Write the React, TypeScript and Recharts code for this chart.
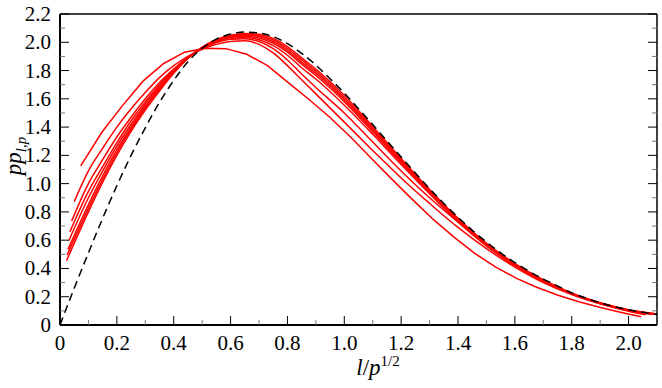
import { LineChart, Line, XAxis, YAxis } from 'recharts';

// x positions for the finer red curves (between their own start and end points)
const GRID_X = [0.1, 0.15, 0.2, 0.25, 0.3, 0.35, 0.4, 0.45, 0.5, 0.55, 0.6, 0.65, 0.7, 0.75, 0.8, 0.85, 0.9, 1.0, 1.1, 1.2, 1.3, 1.4, 1.5, 1.6, 1.7, 1.8, 1.9, 2.0];

const START_X = [0.05, 0.041, 0.035, 0.031, 0.028, 0.025, 0.023];
const START_Y = [0.872, 0.735, 0.66, 0.596, 0.535, 0.495, 0.455];
const END_X = [2.06, 2.08, 2.1, 2.1, 2.1, 2.1, 2.1];
const END_Y = [0.072, 0.074, 0.075, 0.075, 0.076, 0.077, 0.078];

const R2 = [1.09, 1.25, 1.4, 1.53, 1.645, 1.75, 1.835, 1.9, 1.95, 1.985, 2.005, 2.01, 1.985, 1.925, 1.835, 1.735, 1.635, 1.435, 1.235, 1.04, 0.86, 0.69, 0.54, 0.41, 0.3, 0.215, 0.15, 0.098];
const R3 = [1.0, 1.17, 1.33, 1.47, 1.6, 1.715, 1.81, 1.895, 1.96, 2.0, 2.022, 2.025, 2.005, 1.955, 1.875, 1.775, 1.68, 1.5, 1.295, 1.09, 0.9, 0.728, 0.56, 0.42, 0.31, 0.22, 0.153, 0.102];
const R4 = [0.945, 1.12, 1.29, 1.445, 1.58, 1.7, 1.805, 1.895, 1.955, 1.998, 2.024, 2.033, 2.018, 1.976, 1.908, 1.82, 1.74, 1.555, 1.35, 1.135, 0.928, 0.733, 0.562, 0.421, 0.308, 0.217, 0.151, 0.102];
const R5 = [0.9, 1.088, 1.265, 1.42, 1.563, 1.688, 1.797, 1.892, 1.958, 2.005, 2.033, 2.042, 2.03, 1.993, 1.93, 1.845, 1.765, 1.58, 1.367, 1.148, 0.938, 0.74, 0.568, 0.426, 0.312, 0.22, 0.153, 0.104];
const R6 = [0.852, 1.055, 1.24, 1.4, 1.548, 1.675, 1.79, 1.889, 1.96, 2.011, 2.04, 2.05, 2.04, 2.005, 1.943, 1.86, 1.78, 1.595, 1.38, 1.158, 0.945, 0.745, 0.572, 0.429, 0.315, 0.222, 0.155, 0.105];
const R7 = [0.825, 1.03, 1.22, 1.385, 1.535, 1.665, 1.785, 1.887, 1.963, 2.016, 2.045, 2.056, 2.048, 2.016, 1.956, 1.875, 1.795, 1.61, 1.392, 1.168, 0.952, 0.75, 0.575, 0.432, 0.318, 0.224, 0.156, 0.106];
const R8 = [0.8, 1.01, 1.2, 1.37, 1.52, 1.655, 1.78, 1.885, 1.965, 2.02, 2.05, 2.062, 2.056, 2.028, 1.97, 1.89, 1.81, 1.625, 1.405, 1.178, 0.958, 0.755, 0.578, 0.435, 0.32, 0.226, 0.158, 0.108];

// coarsest curve, sampled at its own spacing
const R1_X = [0.073, 0.146, 0.219, 0.292, 0.365, 0.438, 0.511, 0.584, 0.657, 0.73, 0.803, 0.876, 0.949, 1.022, 1.095, 1.168, 1.241, 1.314, 1.387, 1.46, 1.533, 1.606, 1.679, 1.752, 1.825, 1.898, 1.971, 2.044];
const R1_Y = [1.125, 1.36, 1.55, 1.725, 1.85, 1.93, 1.957, 1.955, 1.915, 1.835, 1.715, 1.595, 1.47, 1.33, 1.18, 1.03, 0.885, 0.745, 0.62, 0.505, 0.41, 0.33, 0.265, 0.21, 0.165, 0.125, 0.09, 0.058];

// limiting curve (dashed)
const LIMIT_X = [0, 0.05, 0.1, 0.15, 0.2, 0.25, 0.3, 0.35, 0.4, 0.45, 0.5, 0.55, 0.6, 0.65, 0.7, 0.75, 0.8, 0.85, 0.9, 0.95, 1.0, 1.05, 1.1, 1.15, 1.2, 1.25, 1.3, 1.35, 1.4, 1.45, 1.5, 1.55, 1.6, 1.65, 1.7, 1.75, 1.8, 1.85, 1.9, 1.95, 2.0, 2.05, 2.1];
const LIMIT_Y = [0, 0.26, 0.51, 0.755, 0.985, 1.2, 1.395, 1.575, 1.73, 1.862, 1.958, 2.022, 2.058, 2.072, 2.066, 2.04, 1.99, 1.922, 1.838, 1.742, 1.64, 1.53, 1.418, 1.302, 1.188, 1.075, 0.965, 0.86, 0.762, 0.67, 0.587, 0.51, 0.442, 0.38, 0.325, 0.277, 0.227, 0.19, 0.158, 0.13, 0.108, 0.09, 0.075];

const X_TICKS = [0, 0.1, 0.2, 0.3, 0.4, 0.5, 0.6, 0.7, 0.8, 0.9, 1.0, 1.1, 1.2, 1.3, 1.4, 1.5, 1.6, 1.7, 1.8, 1.9, 2.0];
const Y_TICKS = [0, 0.1, 0.2, 0.3, 0.4, 0.5, 0.6, 0.7, 0.8, 0.9, 1.0, 1.1, 1.2, 1.3, 1.4, 1.5, 1.6, 1.7, 1.8, 1.9, 2.0, 2.1, 2.2];

const serif = { fontFamily: 'Liberation Serif, DejaVu Serif, serif' };

const toPoints = (xs: number[], ys: number[]) => xs.map((x, i) => ({ x, y: ys[i] }));

const gridCurves = [R2, R3, R4, R5, R6, R7, R8].map((ys, i) => [
  { x: START_X[i], y: START_Y[i] },
  ...toPoints(GRID_X, ys),
  { x: END_X[i], y: END_Y[i] },
]);
const r1 = toPoints(R1_X, R1_Y);
const limit = toPoints(LIMIT_X, LIMIT_Y);

const isMajor = (v: number) => Math.round(v * 10) % 2 === 0;
const fmt = (v: number) => (v === 0 ? '0' : v.toFixed(1));
const MAJOR = 9;
const MINOR = 5;

const tickLine = (major: boolean) => ({ stroke: major ? '#000' : '#777', strokeWidth: 1 });

const BottomTick = ({ x, y, payload }: any) => {
  const major = isMajor(payload.value);
  return (
    <g>
      <line x1={x} x2={x} y1={y} y2={y - (major ? MAJOR : MINOR)} {...tickLine(major)} />
      {major && (
        <text x={x} y={y + 25} textAnchor="middle" style={serif} fontSize={21} fill="#000">
          {fmt(payload.value)}
        </text>
      )}
    </g>
  );
};

const TopTick = ({ x, y, payload }: any) => {
  const major = isMajor(payload.value);
  return <line x1={x} x2={x} y1={y} y2={y + (major ? MAJOR : MINOR)} {...tickLine(major)} />;
};

const LeftTick = ({ x, y, payload }: any) => {
  const major = isMajor(payload.value);
  return (
    <g>
      <line x1={x} x2={x + (major ? MAJOR : MINOR)} y1={y} y2={y} {...tickLine(major)} />
      {major && (
        <text x={x - 9} y={y + 7} textAnchor="end" style={serif} fontSize={21} fill="#000">
          {fmt(payload.value)}
        </text>
      )}
    </g>
  );
};

const RightTick = ({ x, y, payload }: any) => {
  const major = isMajor(payload.value);
  return <line x1={x} x2={x - (major ? MAJOR : MINOR)} y1={y} y2={y} {...tickLine(major)} />;
};

const XTitle = () => (
  <text x={378} y={375} textAnchor="middle" style={serif} fontSize={23} fill="#000">
    <tspan fontStyle="italic">l</tspan>/<tspan fontStyle="italic">p</tspan>
    <tspan fontSize={15} dy={-9}>1/2</tspan>
  </text>
);

const YTitle = () => (
  <text transform="rotate(-90)" x={-156} y={21} textAnchor="middle" style={serif} fontSize={23} fill="#000">
    <tspan fontStyle="italic">pp</tspan>
    <tspan fontStyle="italic" fontSize={15} dy={5}>l,p</tspan>
  </text>
);

export default function App() {
  return (
    <div style={{ position: 'absolute', left: 0, top: 0, background: '#fff' }}>
      <LineChart width={662} height={388} margin={{ top: 13, right: 4, bottom: 62, left: 59 }}>
        <XAxis
          xAxisId="x"
          dataKey="x"
          type="number"
          domain={[0, 2.1]}
          allowDataOverflow
          ticks={X_TICKS}
          interval={0}
          height={1}
          tickSize={0}
          tickMargin={0}
          tickLine={false}
          tick={BottomTick}
          axisLine={{ stroke: '#000', strokeWidth: 2 }}
          label={{ content: () => <XTitle /> }}
        />
        <XAxis
          xAxisId="top"
          orientation="top"
          type="number"
          domain={[0, 2.1]}
          allowDataOverflow
          ticks={X_TICKS}
          interval={0}
          height={1}
          tickSize={0}
          tickMargin={0}
          tickLine={false}
          tick={TopTick}
          axisLine={{ stroke: '#000', strokeWidth: 1.5 }}
        />
        <YAxis
          yAxisId="y"
          type="number"
          domain={[0, 2.2]}
          allowDataOverflow
          ticks={Y_TICKS}
          interval={0}
          width={1}
          tickSize={0}
          tickMargin={0}
          tickLine={false}
          tick={LeftTick}
          axisLine={{ stroke: '#000', strokeWidth: 2 }}
          label={{ content: () => <YTitle /> }}
        />
        <YAxis
          yAxisId="right"
          orientation="right"
          type="number"
          domain={[0, 2.2]}
          allowDataOverflow
          ticks={Y_TICKS}
          interval={0}
          width={1}
          tickSize={0}
          tickMargin={0}
          tickLine={false}
          tick={RightTick}
          axisLine={{ stroke: '#000', strokeWidth: 1.5 }}
        />
        {gridCurves.map((pts, i) => (
          <Line
            key={`r${i + 2}`}
            xAxisId="x"
            yAxisId="y"
            data={pts}
            dataKey="y"
            type="monotone"
            stroke="#ff0000"
            strokeWidth={1.5}
            dot={false}
            isAnimationActive={false}
          />
        ))}
        <Line
          xAxisId="x"
          yAxisId="y"
          data={r1}
          dataKey="y"
          type="linear"
          stroke="#ff0000"
          strokeWidth={1.5}
          dot={false}
          isAnimationActive={false}
        />
        <Line
          xAxisId="x"
          yAxisId="y"
          data={limit}
          dataKey="y"
          type="monotone"
          stroke="#000"
          strokeWidth={1.5}
          strokeDasharray="8 5"
          dot={false}
          isAnimationActive={false}
        />
      </LineChart>
    </div>
  );
}
